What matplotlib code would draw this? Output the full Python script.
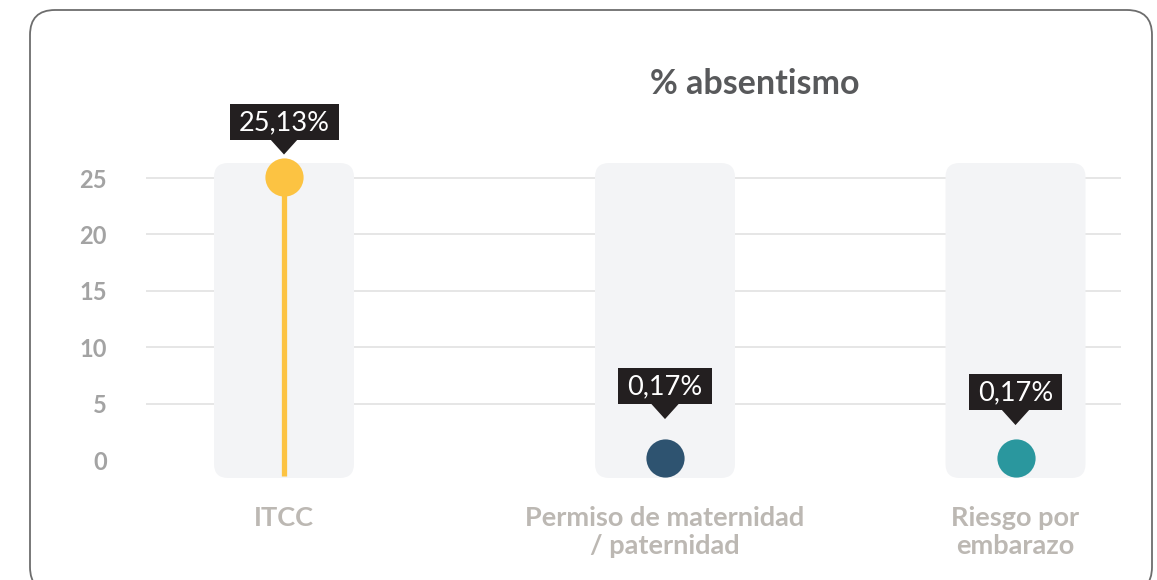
import matplotlib
matplotlib.use("Agg")
import matplotlib.pyplot as plt
from matplotlib.patches import FancyBboxPatch, Polygon
from matplotlib.transforms import IdentityTransform

# ---------------------------------------------------------------------------
# Datos
# ---------------------------------------------------------------------------
categorias = ["ITCC", "Permiso de maternidad\n/ paternidad", "Riesgo por\nembarazo"]
valores = [25.13, 0.17, 0.17]
etiquetas = ["25,13%", "0,17%", "0,17%"]
colores = ["#fcc342", "#2e5370", "#2a979e"]
ticks_y = [0, 5, 10, 15, 20, 25]
titulo = "% absentismo"

# ---------------------------------------------------------------------------
# Maquetación (px)
# ---------------------------------------------------------------------------
pos_x = [0, 1, 1.92]
hueco_tip = [22, 39, 33]      # distancia del centro del punto a la punta del tooltip
W, H, DPI = 1157, 580, 100

plt.rcParams['font.family'] = ['Lato', 'DejaVu Sans']
fig = plt.figure(figsize=(W / DPI, H / DPI), dpi=DPI)
fig.patch.set_facecolor("white")

# ejes: 0 -> y=460px, 25 -> y=178px ; x: 0 -> 284px, 1 -> 665px
px_y = (460 - 178) / 25.0
px_x = 665 - 284
y0, y1 = -3, 27
x0 = -(284 - 146) / px_x
x1 = (1121 - 284) / px_x
ax_top = 178 - (y1 - 25) * px_y
ax_bot = 460 - y0 * px_y
ax = fig.add_axes([146 / W, 1 - ax_bot / H, (1121 - 146) / W, (ax_bot - ax_top) / H])
ax.set_xlim(x0, x1)
ax.set_ylim(y0, y1)
ax.set_facecolor("none")

for s in ax.spines.values():
    s.set_visible(False)

# rejilla
ax.set_yticks(ticks_y)
ax.grid(axis="y", color="#e6e6e6", lw=1.4, zorder=0)
ax.set_axisbelow(True)
ax.yaxis.get_gridlines()[0].set_visible(False)
ax.tick_params(axis="y", length=0, pad=28, labelsize=17, labelcolor="#a3a3a3")
for t in ax.get_yticklabels():
    t.set_fontweight("bold")

ax.set_xticks(pos_x, categorias)
ax.tick_params(axis="x", length=0, pad=9, labelsize=19.5, labelcolor="#bcb8b3")
for t in ax.get_xticklabels():
    t.set_fontweight("bold")
    t.set_linespacing(1.2)

# columnas de fondo
ancho_col = 140 / px_x
col_bot, col_top = -(478 - 460) / px_y, (460 - 163) / px_y
r = 14 / px_x
for x in pos_x:
    ax.add_patch(FancyBboxPatch((x - ancho_col / 2, col_bot), ancho_col, col_top - col_bot,
                                boxstyle=f"round,pad=0,rounding_size={r}",
                                mutation_aspect=px_x / px_y,
                                fc="#f3f4f6", ec="none", zorder=1))

# piruletas
for x, v, c in zip(pos_x, valores, colores):
    ax.vlines(x, col_bot + 0.2, v, color=c, lw=3.8, zorder=2)
    ax.plot([x], [v], "o", ms=27.5, color=c, mec="none", zorder=3)

# tooltips
renderer = fig.canvas.get_renderer()
for x, v, lab, gap in zip(pos_x, valores, etiquetas, hueco_tip):
    cx, cy = ax.transData.transform((x, v))
    tip = cy + gap
    base = tip + 15
    txt = fig.text(cx, base + 17, lab, transform=IdentityTransform(), ha="center", va="center",
                   color="white", fontsize=19.5, zorder=6)
    tw = txt.get_window_extent(renderer).width
    bw = tw + 18
    fig.add_artist(FancyBboxPatch((cx - bw / 2, base), bw, 36, boxstyle="square,pad=0",
                                  fc="#231f20", ec="none", transform=IdentityTransform(), zorder=5))
    fig.add_artist(Polygon([[cx - 14, base + 0.5], [cx + 14, base + 0.5], [cx, tip]],
                           closed=True, fc="#231f20", ec="none",
                           transform=IdentityTransform(), zorder=5))

# titulo
fig.text(755 / W, 1 - 84 / H, titulo, ha="center", va="center", fontsize=24.5,
         fontweight="bold", color="#58595b")

# marco redondeado
fig.add_artist(FancyBboxPatch((30, -12), 1122, 582, boxstyle="round,pad=0,rounding_size=25",
                              fc="none", ec="#6d6d6d", lw=1.3, transform=IdentityTransform(),
                              zorder=10))

fig.savefig("out.png", dpi=DPI)
